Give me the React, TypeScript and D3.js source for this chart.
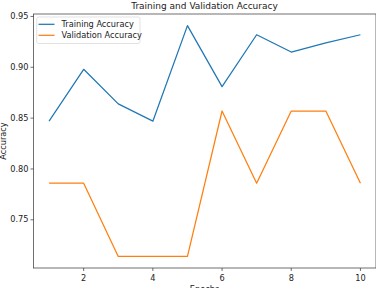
import React from "react";
import * as d3 from "d3";

const epochs = [1, 2, 3, 4, 5, 6, 7, 8, 9, 10];
const trainingAcc = [0.847, 0.898, 0.864, 0.847, 0.941, 0.881, 0.932, 0.915, 0.924, 0.932];
const validationAcc = [0.786, 0.786, 0.714, 0.714, 0.714, 0.857, 0.786, 0.857, 0.857, 0.786];
const xTicks = [2, 4, 6, 8, 10];
const yTicks = [0.75, 0.8, 0.85, 0.9, 0.95];
const seriesNames = ["Training Accuracy", "Validation Accuracy"];
const colors = ["#1f77b4", "#ff7f0e"];

const W = 376;
const H = 288;
const margin = { top: 14, right: 0, bottom: 20, left: 33.5 };
const font = "DejaVu Sans, sans-serif";

export default function App() {
  const x = d3.scaleLinear().domain([0.55, 10.45]).range([margin.left, W - margin.right]);
  const yMin = 0.7026;
  const yMax = 0.9524;
  const y = d3.scaleLinear().domain([yMin, yMax]).range([H - margin.bottom, margin.top]);

  const line = d3
    .line<number>()
    .x((d, i) => x(epochs[i]))
    .y((d) => y(d));

  const series = [trainingAcc, validationAcc];
  const x0 = margin.left;
  const x1 = W - margin.right;
  const y0 = H - margin.bottom;
  const y1 = margin.top;

  return (
    <div style={{ position: "absolute", left: 0, top: 0 }}>
      <svg width={W} height={H} style={{ display: "block", background: "#fff" }} fontFamily={font}>
        {series.map((s, k) => (
          <path key={k} d={line(s) || ""} fill="none" stroke={colors[k]} strokeWidth={1.25} strokeLinejoin="round" />
        ))}

        {/* spines */}
        <rect x={x0} y={y1} width={x1 - x0} height={y0 - y1} fill="none" stroke="#333" strokeWidth={0.7} />

        {/* x ticks */}
        {xTicks.map((t) => (
          <g key={t} transform={`translate(${x(t)},${y0})`}>
            <line y2={3} stroke="#333" strokeWidth={0.7} />
            <text y={12.5} textAnchor="middle" fontSize={8.2} fill="#222">
              {t}
            </text>
          </g>
        ))}

        {/* y ticks */}
        {yTicks.map((t) => (
          <g key={t} transform={`translate(${x0},${y(t)})`}>
            <line x2={-3} stroke="#333" strokeWidth={0.7} />
            <text x={-5} dy="0.32em" textAnchor="end" fontSize={8.2} fill="#222">
              {t.toFixed(2)}
            </text>
          </g>
        ))}

        <text x={204.5} y={292} textAnchor="middle" fontSize={8.2} fill="#222">
          Epochs
        </text>
        <text
          transform={`translate(6,${(y0 + y1) / 2}) rotate(-90)`}
          textAnchor="middle"
          fontSize={8.2}
          fill="#222"
        >
          Accuracy
        </text>

        <text x={204.5} y={9} textAnchor="middle" fontSize={9} fill="#222">
          Training and Validation Accuracy
        </text>

        {/* legend */}
        <rect x={36.7} y={17} width={103.3} height={26.5} rx={2} fill="#fff" fillOpacity={0.8} stroke="#d5d5d5" strokeWidth={0.7} />
        {seriesNames.map((name, k) => (
          <g key={name} transform={`translate(38.5,${24.3 + k * 11})`}>
            <line x1={0} x2={16} stroke={colors[k]} strokeWidth={1.25} />
            <text x={23} dy="0.32em" fontSize={8.2} fill="#222">
              {name}
            </text>
          </g>
        ))}
      </svg>
    </div>
  );
}
